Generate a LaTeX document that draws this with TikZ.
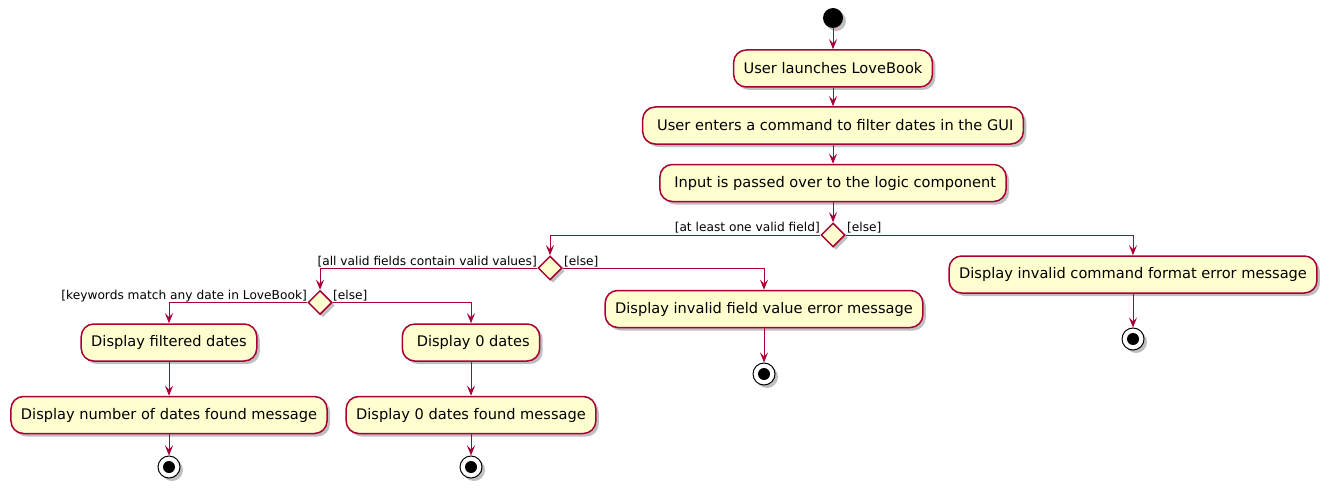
\documentclass[tikz,border=0pt]{standalone}
\usepackage{fontspec}
\setmainfont{DejaVu Sans}
\usetikzlibrary{shapes.geometric,arrows.meta,shadows}
\definecolor{puline}{HTML}{A80036}
\definecolor{pufill}{HTML}{FEFECE}
\begin{document}
\begin{tikzpicture}[x=1pt,y=-1pt,
  shad/.style={drop shadow={shadow xshift=3pt,shadow yshift=-3pt,opacity=0.25,fill=black}},
  act/.style={draw=puline, fill=pufill, line width=1.5pt, rounded corners=12.5pt,
    minimum height=37pt, inner xsep=10pt, inner ysep=0pt,
    font=\fontsize{14.6}{16}\selectfont, shad},
  dec/.style={diamond, aspect=1, draw=puline, fill=pufill, line width=1.5pt,
    minimum width=24pt, minimum height=24pt, inner sep=0pt, shad},
  arr/.style={draw=puline, line width=1pt, -{Stealth[length=10pt,width=8pt,inset=4pt]}},
  lbl/.style={font=\fontsize{12.2}{14}\selectfont, inner sep=0pt},
  startn/.style={circle, fill=black, minimum size=20pt, inner sep=0pt, shad},
  stopn/.style={circle, draw=black, fill=white, line width=1pt, minimum size=22pt,
    inner sep=0pt, shad,
    path picture={\fill[black] (path picture bounding box.center) circle (6pt);}}
]
\fill[white] (0,0) rectangle (1332,492);
\useasboundingbox (0,0) rectangle (1332,492);

\node[startn] (s) at (833,18) {};
\node[act] (b1) at (833,68.5) {User launches LoveBook};
\node[act] (b2) at (833,125.5) {\hspace*{4.5pt}User enters a command to filter dates in the GUI};
\node[act] (b3) at (833,183) {\hspace*{4.5pt}Input is passed over to the logic component};
\node[dec] (d1) at (833,235) {};

\node[act] (bcmd) at (1133,274.5) {Display invalid command format error message};
\node[stopn] (ecmd) at (1133,339) {};

\node[dec] (d2) at (550,268) {};
\node[act] (bfv) at (764,309) {Display invalid field value error message};
\node[stopn] (efv) at (764,374) {};

\node[dec] (d3) at (320,302.5) {};
\node[act] (bfd) at (169,342.5) {Display filtered dates};
\node[act] (bnd) at (169,415) {Display number of dates found message};
\node[stopn] (end) at (169,467) {};

\node[act] (b0) at (471,342.5) {\hspace*{4.5pt}Display 0 dates};
\node[act] (b0m) at (471,415) {Display 0 dates found message};
\node[stopn] (e0) at (471,467) {};

\node[lbl, anchor=base east] (l1) at (820,231) {[at least one valid field]};
\node[lbl, anchor=base west] (l2) at (847,231) {[else]};
\node[lbl, anchor=base east] (l3) at (537,265) {[all valid fields contain valid values]};
\node[lbl, anchor=base west] (l4) at (564,265) {[else]};
\node[lbl, anchor=base east] (l5) at (307,299) {[keywords match any date in LoveBook]};
\node[lbl, anchor=base west] (l6) at (333,299) {[else]};

\draw[arr] (s) -- (b1);
\draw[arr] (b1) -- (b2);
\draw[arr] (b2) -- (b3);
\draw[arr] (b3) -- (d1);
\draw[arr] (d1.west) -| (d2.north);
\draw[arr] (d1.east) -| (bcmd.north);
\draw[arr] (bcmd) -- (ecmd);
\draw[arr] (d2.west) -| (d3.north);
\draw[arr] (d2.east) -| (bfv.north);
\draw[arr] (bfv) -- (efv);
\draw[arr] (d3.west) -| (bfd.north);
\draw[arr] (d3.east) -| (b0.north);
\draw[arr] (bfd) -- (bnd);
\draw[arr] (bnd) -- (end);
\draw[arr] (b0) -- (b0m);
\draw[arr] (b0m) -- (e0);
\end{tikzpicture}
\end{document}
